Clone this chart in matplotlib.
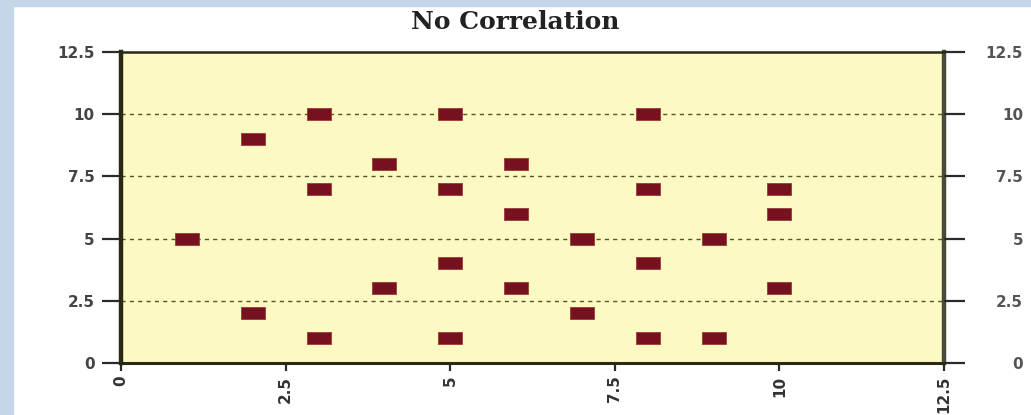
import matplotlib.pyplot as plt
from matplotlib.patches import Rectangle

# data
x_vals = [3, 5, 8, 2, 4, 6, 3, 5, 8, 10, 6, 10, 1, 7, 9, 5, 8, 4, 6, 10, 2, 7, 3, 5, 8, 9]
y_vals = [10, 10, 10, 9, 8, 8, 7, 7, 7, 7, 6, 6, 5, 5, 5, 4, 4, 3, 3, 3, 2, 2, 1, 1, 1, 1]
ticks = [0, 2.5, 5, 7.5, 10, 12.5]
tick_labels = ['0', '2.5', '5', '7.5', '10', '12.5']
title = 'No Correlation'

fig = plt.figure(figsize=(10.31, 4.15), dpi=100)
fig.patch.set_facecolor('white')

# light blue frame on left and top
fig.patches.append(Rectangle((0, 0), 13 / 1031, 1, transform=fig.transFigure,
                             color='#c6d6ea', zorder=0))
fig.patches.append(Rectangle((0, 1 - 6 / 415), 1, 6 / 415, transform=fig.transFigure,
                             color='#c6d6ea', zorder=0))

ax = fig.add_axes([121 / 1031, 52 / 415, 823 / 1031, 311 / 415])
ax.set_facecolor('#fdf9c2')

rect = [(-1, -0.5), (1, -0.5), (1, 0.5), (-1, 0.5), (-1, -0.5)]
ax.plot(x_vals, y_vals, linestyle='none', marker=rect, markersize=17,
        markerfacecolor='#76121f', markeredgecolor='#9a3a3a', markeredgewidth=0.6,
        zorder=3)

ax.set_xlim(0, 12.5)
ax.set_ylim(0, 12.5)
ax.set_xticks(ticks)
ax.set_xticklabels(tick_labels, rotation=90)
ax.set_yticks(ticks)
ax.set_yticklabels(tick_labels)

for v in ticks[1:-1]:
    ax.axhline(v, color='#55552a', linewidth=1.0, linestyle=(0, (3, 3)), zorder=1)

ax.spines['left'].set_linewidth(3.2)
ax.spines['left'].set_color('#2a2a14')
ax.spines['bottom'].set_linewidth(2.2)
ax.spines['bottom'].set_color('#2a2a14')
ax.spines['top'].set_linewidth(1.8)
ax.spines['top'].set_color('#2a2a14')
ax.spines['right'].set_linewidth(3.2)
ax.spines['right'].set_color('#4a4a3a')

ax.tick_params(axis='y', left=True, direction='out', length=14, width=1.6,
               color='#2a2a2a', labelsize=11, labelcolor='#444444', pad=5)
ax.tick_params(axis='x', bottom=True, direction='out', length=6, width=1.6,
               color='#2a2a2a', labelsize=11, labelcolor='#333333', pad=3)

# right-hand axis, labels pushed out to the edge
ax2 = ax.twinx()
ax2.set_ylim(0, 12.5)
ax2.set_yticks(ticks)
ax2.set_yticklabels(tick_labels)
ax2.tick_params(axis='y', direction='out', length=15, width=1.6, color='#2a2a2a',
                labelsize=11, labelcolor='#555555', pad=42)
for s in ax2.spines.values():
    s.set_visible(False)
for lab in ax2.get_yticklabels():
    lab.set_horizontalalignment('right')
    lab.set_fontweight('bold')

for lab in ax.get_xticklabels() + ax.get_yticklabels():
    lab.set_fontweight('bold')

fig.text(0.5, 1 - 22 / 415, title, ha='center', va='center',
         family='DejaVu Serif', fontweight='bold', fontsize=18, color='#222222')

fig.savefig('out.png', dpi=100)
